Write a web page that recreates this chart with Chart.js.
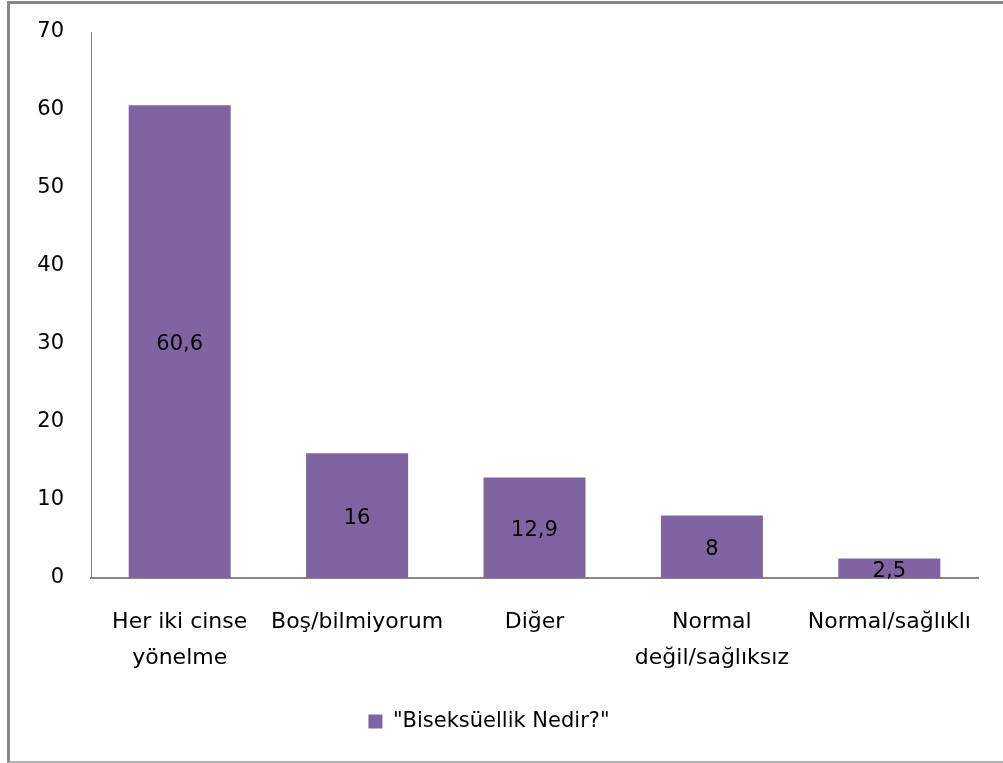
<!DOCTYPE html>
<html>
<head>
<meta charset="utf-8">
<script src="https://cdn.jsdelivr.net/npm/chart.js@4"></script>
<style>
  html, body { margin: 0; padding: 0; background: #fff; }
  #wrap { position: relative; width: 1003px; height: 763px; overflow: hidden; }
  #wrap canvas { position: absolute; left: 0; top: 0; }
  #frame {
    position: absolute; left: 7px; top: 1px; width: 1000px; height: 757px;
    border-left: 3px solid #878787; border-top: 3px solid #878787;
    border-bottom: 2px solid #b4b4b4; pointer-events: none;
  }
</style>
</head>
<body>
<div id="wrap">
  <canvas id="chart" width="1003" height="763"></canvas>
  <div id="frame"></div>
</div>
<script>
// data
var categories = [
  ['Her iki cinse', 'yönelme'],
  'Boş/bilmiyorum',
  'Diğer',
  ['Normal', 'değil/sağlıksız'],
  'Normal/sağlıklı'
];
var seriesName = '"Biseksüellik Nedir?"';
var values = [60.6, 16, 12.9, 8, 2.5];
var yTicks = [0, 10, 20, 30, 40, 50, 60, 70];

var FONT = '"DejaVu Sans", sans-serif';
var purple = '#8064A2';
var axisGray = '#868686';

// labels in the middle of each bar, comma decimals
var barLabels = {
  id: 'barLabels',
  afterDatasetsDraw: function (chart) {
    var ctx = chart.ctx;
    var meta = chart.getDatasetMeta(0);
    ctx.save();
    ctx.font = '21px ' + FONT;
    ctx.fillStyle = '#000';
    ctx.textAlign = 'center';
    ctx.textBaseline = 'middle';
    meta.data.forEach(function (bar, i) {
      var mid = (bar.y + bar.base) / 2 + 3;
      ctx.fillText(String(values[i]).replace('.', ','), bar.x, mid);
    });
    ctx.restore();
  }
};

new Chart(document.getElementById('chart'), {
  type: 'bar',
  data: {
    labels: categories,
    datasets: [{
      label: seriesName,
      data: values,
      backgroundColor: purple,
      borderWidth: 0,
      categoryPercentage: 1,
      barPercentage: 0.575
    }]
  },
  options: {
    responsive: false,
    animation: false,
    layout: { padding: { top: 32, right: 25, bottom: 21, left: 0 } },
    plugins: {
      tooltip: { enabled: false },
      legend: {
        position: 'bottom',
        labels: {
          color: '#000',
          font: { family: FONT, size: 21 },
          boxWidth: 14,
          boxHeight: 14,
          padding: 10
        }
      }
    },
    scales: {
      x: {
        grid: { display: false },
        border: { display: true, color: axisGray, width: 2 },
        ticks: {
          color: '#000',
          font: { family: FONT, size: 22, lineHeight: 1.6 },
          padding: 19,
          maxRotation: 0,
          autoSkip: false
        },
        afterFit: function (scale) { scale.height = 123; }
      },
      y: {
        min: 0,
        max: 70,
        grid: { display: false, drawTicks: false },
        border: { display: true, color: axisGray, width: 1 },
        afterBuildTicks: function (scale) {
          scale.ticks = yTicks.map(function (v) { return { value: v }; });
        },
        ticks: {
          color: '#000',
          font: { family: FONT, size: 21 },
          padding: 27
        },
        afterFit: function (scale) {
          scale.width = 91;
          scale.paddingTop = 0;
          scale.paddingBottom = 0;
        }
      }
    }
  },
  plugins: [barLabels]
});
</script>
</body>
</html>
